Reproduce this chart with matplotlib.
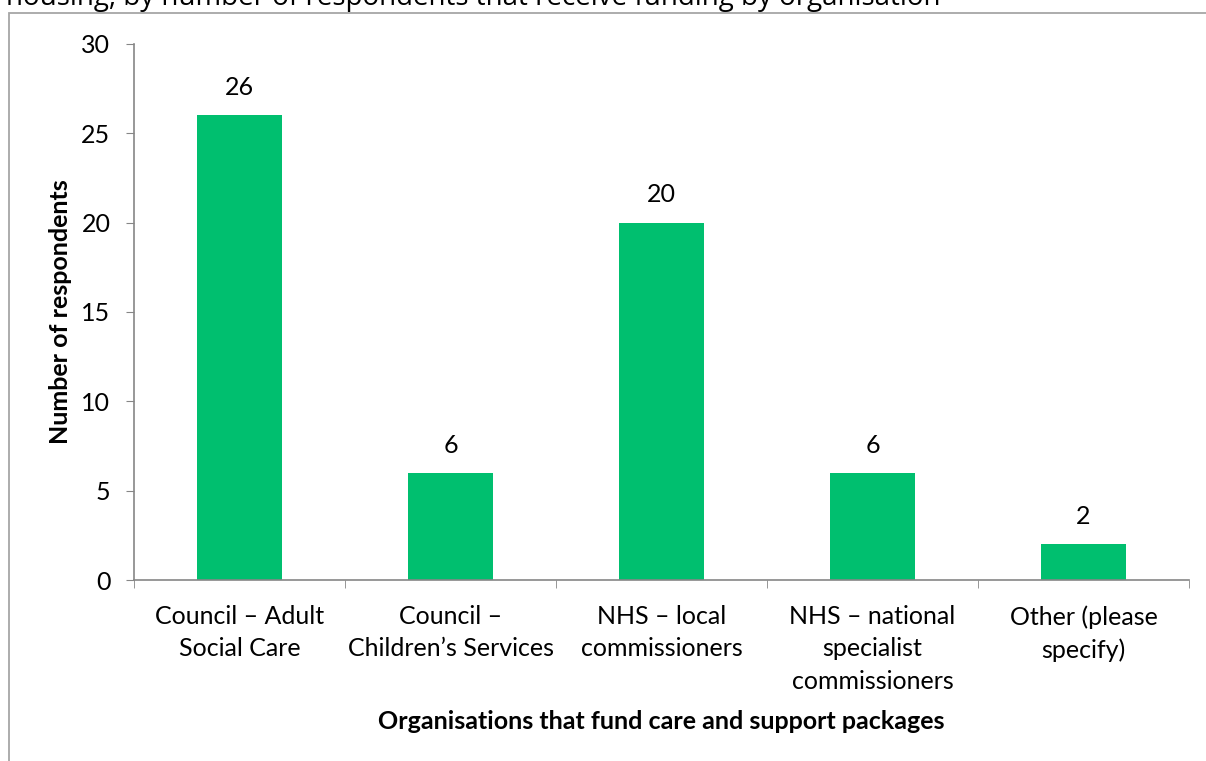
import matplotlib
matplotlib.use("Agg")
import matplotlib.pyplot as plt
from matplotlib.patches import Rectangle

categories = ["Council – Adult\nSocial Care", "Council –\nChildren’s Services",
              "NHS – local\ncommissioners", "NHS – national\nspecialist\ncommissioners",
              "Other (please\nspecify)"]
values = [26, 6, 20, 6, 2]
yticks = [0, 5, 10, 15, 20, 25, 30]
title_text = "housing, by number of respondents that receive funding by organisation"
xlabel = "Organisations that fund care and support packages"
ylabel = "Number of respondents"

plt.rcParams['font.family'] = ['Lato', 'DejaVu Sans']
W, H = 1206, 761
fig = plt.figure(figsize=(W/100, H/100), dpi=100)

# heading cut off by the top edge, as in the reference
fig.text(6/W, 1 - 5/H, title_text, fontsize=20, color="black", ha="left", va="baseline",
         family=['Open Sans', 'DejaVu Sans'])
# frame
fig.add_artist(Rectangle((9/W, -0.1), 1.2, 1 - 13/H + 0.1, transform=fig.transFigure,
                         fill=False, edgecolor="#a6a6a6", linewidth=1.3))

ax = fig.add_axes([134/W, 1 - 580/H, (1189-134)/W, (580-44)/H])
n = len(values)
x = list(range(n))
bars = ax.bar(x, values, width=0.4, color="#00BF6F", zorder=2)
ax.set_xlim(-0.5, n - 0.5)
ax.set_ylim(0, 30)
ax.set_yticks(yticks)
ax.set_yticklabels([str(t) for t in yticks], fontsize=18)
ax.set_xticks(x)
ax.set_xticklabels(categories, fontsize=18, linespacing=1.5)
ax.tick_params(axis='x', length=0, pad=18)
ax.set_xticks([i - 0.5 for i in range(n + 1)], minor=True)
ax.tick_params(axis='x', which='minor', length=6, color="#868686", direction='out')
ax.tick_params(axis='y', length=6, color="#868686", direction='out', pad=11)
for s in ['top', 'right']:
    ax.spines[s].set_visible(False)
for s in ['left', 'bottom']:
    ax.spines[s].set_color("#868686")
    ax.spines[s].set_linewidth(1.2)
for b, v in zip(bars, values):
    ax.annotate(str(v), (b.get_x() + b.get_width()/2, v), xytext=(0, 20),
                textcoords="offset points", ha="center", va="center", fontsize=18)
ax.set_xlabel(xlabel, fontsize=18, fontweight="bold", labelpad=12)
ax.set_ylabel(ylabel, fontsize=18, fontweight="bold", labelpad=7)

fig.savefig("out.png", dpi=100, facecolor="white")
